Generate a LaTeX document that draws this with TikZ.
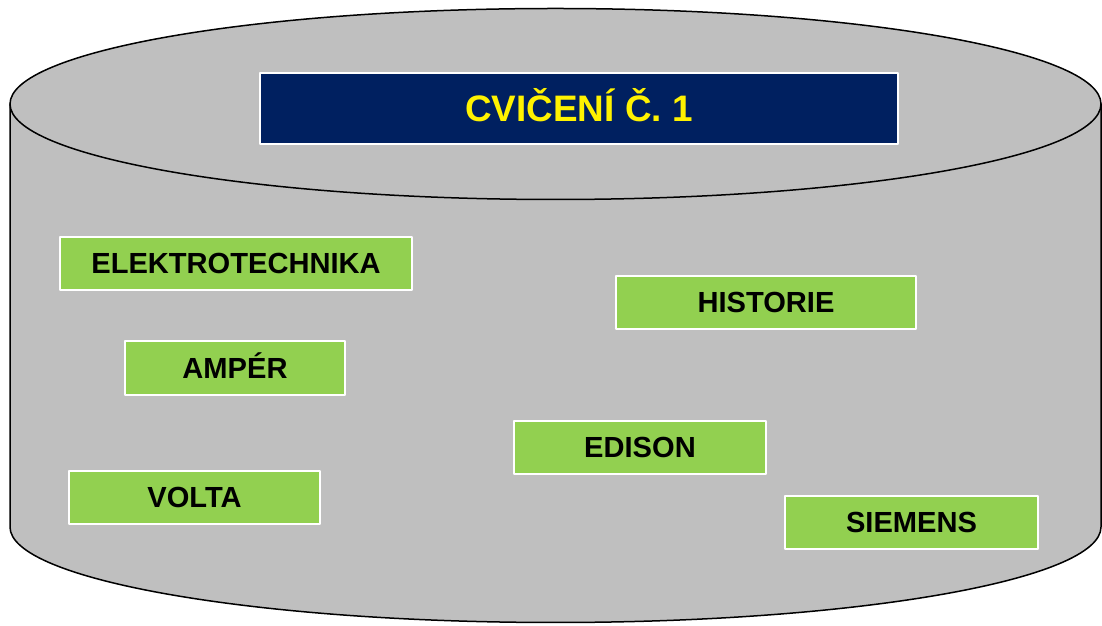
\documentclass[tikz,border=0pt]{standalone}
\usepackage{fontspec}
\setmainfont{Liberation Sans}
\definecolor{plast}{HTML}{BFBFBF}
\definecolor{tmmodra}{HTML}{002060}
\definecolor{zelena}{HTML}{92D050}
\tikzset{
  pojem/.style={draw=white, line width=2bp, fill=zelena, font=\bfseries\fontsize{29.2}{30}\selectfont,
    text=black, inner sep=0pt, text height=21bp, text depth=0bp, anchor=center},
  nadpis/.style={draw=white, line width=2bp, fill=tmmodra, text=yellow, inner sep=0pt,
    font=\bfseries\fontsize{37}{40}\selectfont, text height=27bp, text depth=0bp}
}
\begin{document}
\begin{tikzpicture}[x=1bp, y=1bp, line join=round, line cap=round]
	\def\cx{555.5} \def\rx{545.5} % stred a polomer valce
	\def\yh{522} \def\yd{99} \def\ry{95.5}
	\useasboundingbox (0,0) rectangle (1102,626);
	
	% plast valce
	\draw[fill=plast, line width=1.5bp] (\cx-\rx,\yh)--(\cx-\rx,\yd)
		arc[start angle=180, end angle=360, x radius=\rx, y radius=\ry]
		--(\cx+\rx,\yh);
	\draw[fill=plast, line width=1.5bp] (\cx,\yh) ellipse[x radius=\rx, y radius=\ry];
	
	\node[nadpis, minimum width=640, minimum height=71] (titul) at (579,517.5) {CVIČENÍ Č. 1};
	
	\node[pojem, minimum width=354, minimum height=53] (elektro) at (236,362.5) {ELEKTROTECHNIKA};
	\node[pojem, minimum width=220, minimum height=54] (amper) at (235,258) {AMPÉR};
	\node[pojem, minimum width=251, minimum height=53] (volta) at (194.5,128.5) {VOLTA};
	\node[pojem, minimum width=302, minimum height=53] (historie) at (766,323.5) {HISTORIE};
	\node[pojem, minimum width=252, minimum height=53] (edison) at (640,178.5) {EDISON};
	\node[pojem, minimum width=253, minimum height=53] (siemens) at (911.5,103.5) {SIEMENS};
\end{tikzpicture}
\end{document}
